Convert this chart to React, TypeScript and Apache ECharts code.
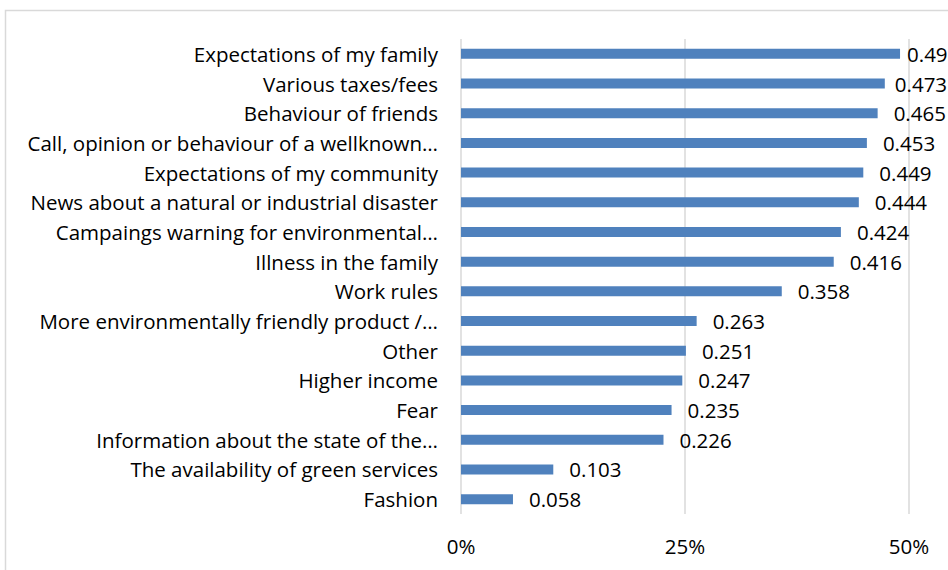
import React, { useEffect, useRef } from "react";
import * as echarts from "echarts";

const categories = [
  "Expectations of my family",
  "Various taxes/fees",
  "Behaviour of friends",
  "Call, opinion or behaviour of a wellknown…",
  "Expectations of my community",
  "News about a natural or industrial disaster",
  "Campaings warning for environmental…",
  "Illness in the family",
  "Work rules",
  "More environmentally friendly product /…",
  "Other",
  "Higher income",
  "Fear",
  "Information about the state of the…",
  "The availability of green services",
  "Fashion",
];
const values = [0.49, 0.473, 0.465, 0.453, 0.449, 0.444, 0.424, 0.416, 0.358, 0.263, 0.251, 0.247, 0.235, 0.226, 0.103, 0.058];
const axisMax = 0.5;
const axisStep = 0.25;

const FONT = "'Open Sans', sans-serif";
const FS = 20.5;
// labels near the right edge are pulled closer to their bar (as in the source chart)
const labelDistances: Record<number, number> = { 0: 7, 1: 10 };

export default function App() {
  const ref = useRef<HTMLDivElement>(null);
  useEffect(() => {
    if (!ref.current) return;
    const chart = echarts.init(ref.current, undefined, { renderer: "svg" });
    chart.setOption({
      animation: false,
      backgroundColor: "#ffffff",
      graphic: [
        {
          type: "rect",
          shape: { x: 5.5, y: 10.5, width: 1000, height: 1000 },
          style: { fill: "none", stroke: "#d9d9d9", lineWidth: 1.5 },
          silent: true,
        },
      ],
      grid: { left: 461, right: 39, top: 39, bottom: 56, containLabel: false },
      xAxis: {
        type: "value",
        min: 0,
        max: axisMax,
        interval: axisStep,
        axisLine: { show: false },
        axisTick: { show: false },
        splitLine: { show: true, lineStyle: { color: "#d9d9d9", width: 1.5 } },
        axisLabel: {
          formatter: (v: number) => `${Math.round(v * 100)}%`,
          color: "#000",
          fontFamily: FONT,
          fontSize: FS,
          margin: 21,
        },
      },
      yAxis: {
        type: "category",
        data: categories,
        inverse: true,
        axisLine: { show: false },
        axisTick: { show: false },
        axisLabel: {
          color: "#000",
          fontFamily: FONT,
          fontSize: FS,
          margin: 23,
        },
      },
      series: [
        {
          type: "bar",
          data: values.map((v, i) =>
            labelDistances[i] !== undefined
              ? { value: v, label: { distance: labelDistances[i] } }
              : v
          ),
          barWidth: 10,
          itemStyle: { color: "#4f81bd" },
          label: {
            show: true,
            position: "right",
            distance: 16,
            color: "#000",
            fontFamily: FONT,
            fontSize: FS,
            formatter: (p: any) => String(p.value),
          },
        },
      ],
    });
    return () => chart.dispose();
  }, []);
  return (
    <div
      ref={ref}
      style={{ position: "fixed", left: 0, top: 0, width: 948, height: 570 }}
    />
  );
}
